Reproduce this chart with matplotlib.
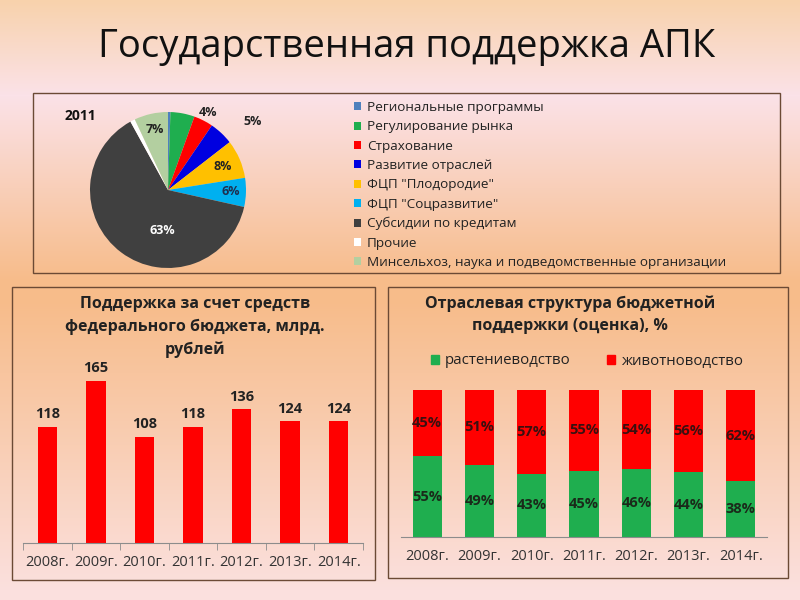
import numpy as np
import matplotlib.pyplot as plt
from matplotlib.patches import Rectangle, Patch

plt.rcParams['font.family'] = ['Open Sans', 'DejaVu Sans']

# pie data, 2011
pie_labels = ['Региональные программы', 'Регулирование рынка', 'Страхование',
              'Развитие отраслей', 'ФЦП "Плодородие"', 'ФЦП "Соцразвитие"',
              'Субсидии по кредитам', 'Прочие',
              'Минсельхоз, наука и подведомственные организации']
pie_values = [0.5, 5, 4, 5, 8, 6, 63.5, 1, 7]
pie_texts = ['', '', '4%', '5%', '8%', '6%', '63%', '', '7%']
pie_colors = ['#4f81bd', '#1fae4f', '#ff0000', '#0000e0', '#ffc000',
              '#00b0f0', '#404040', '#ffffff', '#b3cfa0']

# federal budget support, bn rub
years = ['2008г.', '2009г.', '2010г.', '2011г.', '2012г.', '2013г.', '2014г.']
budget = [118, 165, 108, 118, 136, 124, 124]

# structure, %
plant = [55, 49, 43, 45, 46, 44, 38]
animal = [45, 51, 57, 55, 54, 56, 62]

W, H = 800, 600


def box(x0, y0, x1, y1):
    # pixel coords (top-left origin) -> figure rect
    return [x0 / W, 1 - y1 / H, (x1 - x0) / W, (y1 - y0) / H]


fig = plt.figure(figsize=(8, 6), dpi=100)

# background gradient
bg = fig.add_axes([0, 0, 1, 1], zorder=-5)
stops_y = [0, 95, 280, 300, 590, 600]
stops_c = np.array([[248, 210, 172], [251, 226, 232], [247, 188, 138],
                    [247, 188, 138], [251, 224, 222], [251, 224, 222]]) / 255
yy = np.arange(H)
grad = np.stack([np.interp(yy, stops_y, stops_c[:, i]) for i in range(3)], axis=1)
bg.imshow(grad[:, None, :], aspect='auto', extent=[0, 1, 0, 1])
bg.axis('off')

fig.text(0.508, 1 - 47 / H, 'Государственная поддержка АПК', ha='center', va='center',
         fontsize=27.5, color='#111111')

# panel frames
for (x0, y0, x1, y1) in [(33, 93, 780, 273), (12, 287, 375, 580), (388, 287, 788, 578)]:
    fig.add_artist(Rectangle((x0 / W, 1 - y1 / H), (x1 - x0) / W, (y1 - y0) / H,
                             transform=fig.transFigure, fill=False,
                             edgecolor='#6b4a35', linewidth=1))

# pie
axp = fig.add_axes(box(90, 112, 246, 268))
wedges, _ = axp.pie(pie_values, colors=pie_colors, startangle=90, counterclock=False,
                    wedgeprops=dict(linewidth=0))
axp.set_xlim(-1, 1)
axp.set_ylim(-1, 1)
label_r = [0, 0, 1.12, 1.4, 0.76, 0.8, 0.52, 0, 0.8]
label_shift = [0, 0, 0, -8, 0, 0, 29, 0, 0]
label_col = ['k', 'k', '#222222', '#222222', '#222222', '#1f2f4f', 'white', 'k', '#222222']
for w, t, r, s, c in zip(wedges, pie_texts, label_r, label_shift, label_col):
    if not t:
        continue
    ang = np.deg2rad((w.theta1 + w.theta2) / 2 + s)
    axp.text(r * np.cos(ang), r * np.sin(ang), t, ha='center', va='center',
             fontsize=9, fontweight='bold', color=c, clip_on=False)
fig.text(80 / W, 1 - 116 / H, '2011', ha='center', va='center', fontsize=10,
         fontweight='bold', color='#111111')
fig.legend(wedges, pie_labels, loc='upper left', bbox_to_anchor=(354 / W, 1 - 101 / H),
           frameon=False, fontsize=9.7, handlelength=0.55, handleheight=0.55,
           handletextpad=0.4, labelspacing=0.47, borderaxespad=0, borderpad=0,
           labelcolor='#222222')

# budget bars
axb = fig.add_axes(box(23, 371, 363, 543))
xb = np.arange(len(years))
axb.bar(xb, budget, width=0.4, color='#ff0000')
for x, v in zip(xb, budget):
    axb.annotate(str(v), (x, v), xytext=(0, 4), textcoords='offset points',
                 ha='center', va='bottom', fontsize=10.5, fontweight='bold',
                 color='#222222', annotation_clip=False)
axb.set_xlim(-0.5, len(years) - 0.5)
axb.set_ylim(0, 175)
axb.set_facecolor('none')
for s in ['top', 'right', 'left']:
    axb.spines[s].set_visible(False)
axb.spines['bottom'].set_color('#8c8c8c')
axb.set_yticks([])
axb.set_xticks(xb)
axb.set_xticklabels(years, fontsize=10.5, color='#333333')
axb.tick_params(axis='x', which='major', length=0, pad=9)
axb.set_xticks(np.arange(-0.5, len(years)), minor=True)
axb.tick_params(axis='x', which='minor', length=5, color='#8c8c8c')
fig.text(195 / W, 1 - 327 / H,
         'Поддержка за счет средств\nфедерального бюджета, млрд.\nрублей',
         ha='center', va='center', fontsize=11.5, fontweight='bold',
         color='#222222', linespacing=1.5)

# structure stacked bars
axs = fig.add_axes(box(401, 390, 767, 537))
xs = np.arange(len(years))
plant_f = np.array(plant) / 100
animal_f = np.array(animal) / 100
axs.bar(xs, plant_f, width=0.56, color='#1fae4f', label='растениеводство')
axs.bar(xs, animal_f, width=0.56, bottom=plant_f, color='#ff0000', label='животноводство')
for x, p, a in zip(xs, plant_f, animal_f):
    axs.text(x, p / 2, f'{round(p * 100)}%', ha='center', va='center', fontsize=10.5,
             fontweight='bold', color='#1a2a1a')
    axs.text(x, p + a / 2, f'{round(a * 100)}%', ha='center', va='center', fontsize=10.5,
             fontweight='bold', color='#3a1010')
axs.set_xlim(-0.5, len(years) - 0.5)
axs.set_ylim(0, 1)
axs.set_facecolor('none')
for s in ['top', 'right', 'left']:
    axs.spines[s].set_visible(False)
axs.spines['bottom'].set_color('#8c8c8c')
axs.set_yticks([])
axs.set_xticks(xs)
axs.set_xticklabels(years, fontsize=10.5, color='#333333')
axs.tick_params(axis='x', length=0, pad=9)
fig.text(570 / W, 1 - 315 / H, 'Отраслевая структура бюджетной\nподдержки (оценка), %',
         ha='center', va='center', fontsize=11.5, fontweight='bold',
         color='#222222', linespacing=1.5)
fig.legend(handles=[Patch(color='#1fae4f', label='растениеводство'),
                    Patch(color='#ff0000', label='животноводство')],
           loc='center', bbox_to_anchor=(587 / W, 1 - 361 / H), ncol=2, frameon=False,
           fontsize=10.8, handlelength=0.55, handleheight=0.55, handletextpad=0.4,
           columnspacing=2.4, labelcolor='#222222')

fig.savefig('out.png', dpi=100)
